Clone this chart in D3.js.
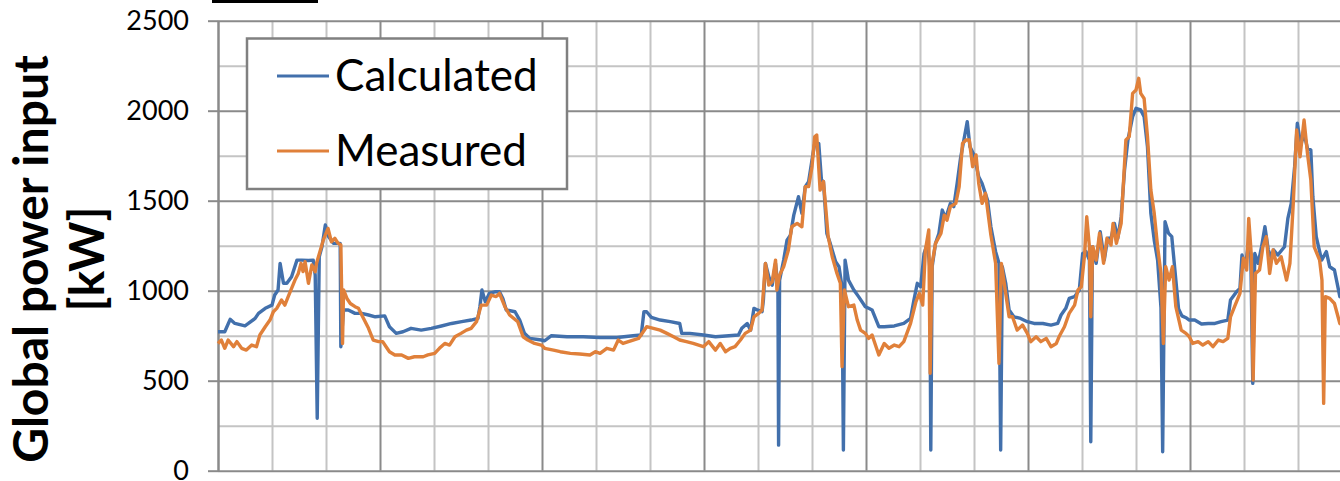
<!DOCTYPE html>
<html>
<head>
<meta charset="utf-8">
<script src="https://cdn.jsdelivr.net/npm/d3@7"></script>
<style>
  html, body { margin: 0; padding: 0; background: #fff; }
  svg { display: block; }
  text { font-family: Lato, "Open Sans", sans-serif; fill: #000; }
</style>
</head>
<body>
<svg id="chart" width="1340" height="481"></svg>
<script>
// Time axis in hours over one week; both series sampled irregularly.
const calcHours = [0,1,1.8,2.5,4,4.5,5.5,6,7,8,8.4,8.9,9.2,9.7,10.2,10.9,11.7,12.4,13.4,14.1,14.4,14.7,15,15.4,15.9,16.4,17.1,18.1,18.2,18.6,19.3,20.3,21.3,22.3,23.3,
  24.7,25.4,26.4,27.4,28.6,30.1,31.6,33.1,34.6,36.1,37.5,38.5,38.8,39.1,39.6,40.2,41,41.7,42.2,42.7,44,44.7,45.4,46.2,47.9,
  48.4,49.4,51.7,54.1,56.6,59.1,61.5,62.7,63.1,63.5,64.2,65.5,67,68.4,68.7,69.9,71.9,
  73.7,75.7,77.1,77.6,78.4,78.9,79.4,79.9,80.6,80.8,81.1,81.6,82.1,82.6,82.95,83.05,83.2,83.8,84.3,84.8,85.3,86,86.5,87,87.5,88,88.4,89,89.4,89.7,90.2,90.7,91.5,92,92.45,92.65,92.9,93.4,94.2,94.9,95.9,
  96.4,96.9,97.9,98.7,100.2,101.6,102.6,103.1,103.6,104.1,104.6,105.1,105.45,105.6,105.8,106.3,106.8,107.3,107.8,108.5,109,109.5,110,110.5,111,111.4,112,112.7,113.2,114,114.5,115.2,115.7,115.95,116.2,116.7,117.2,117.9,118.9,119.9,
  120.9,122.2,123.4,124.4,124.9,125.6,126.1,126.9,127.6,128.1,128.6,129.1,129.3,129.55,130.1,130.7,131.3,131.8,132.3,132.8,133.3,133.8,134.3,134.8,135.5,136,136.7,137.2,137.7,138.2,138.7,139.2,139.7,139.95,140.3,140.8,141.3,141.8,142.3,142.8,143.4,143.9,
  144.7,145.7,146.7,147.7,148.6,149.6,150,150.9,151.4,151.7,152.2,152.6,153,153.3,153.6,154.1,154.6,155.1,155.6,156.1,156.4,157,158,158.5,159,159.5,159.9,160.4,160.9,161.4,161.9,162.2,162.7,163.5,164.2,164.7,165.4,166.2,167,168];
const calcValues = [772,772,841,818,805,818,846,874,902,920,976,1004,1152,1041,1041,1078,1170,1170,1168,1170,1087,291,1189,1244,1365,1300,1263,1263,689,893,893,874,874,865,855,
  860,800,763,772,791,781,791,804,818,828,837,846,911,1004,939,985,994,994,957,893,883,837,763,735,726,
  722,750,744,744,740,740,750,754,883,883,852,837,828,818,763,763,754,
  744,750,754,791,818,781,902,893,883,948,1152,1078,1031,1152,1022,142,1059,1170,1281,1309,1420,1522,1430,1578,1606,1726,1818,1818,1615,1606,1318,1263,1161,1133,1022,115,1170,1059,1004,967,911,
  902,893,800,800,804,818,846,948,1041,1022,1207,1263,1133,115,1133,1263,1318,1448,1402,1485,1467,1596,1735,1837,1939,1800,1754,1633,1596,1504,1355,1217,1152,115,1133,1041,893,855,846,828,
  818,818,809,818,865,902,957,967,1004,1207,1217,1170,161,1244,1152,1328,1170,1291,1291,1374,1291,1411,1670,1837,1967,2013,2004,1967,1800,1430,1281,1170,904,105,1383,1320,1300,1100,900,860,850,837,
  837,815,818,818,828,837,948,994,1013,1198,1133,1244,1207,485,1207,1152,1244,1355,1226,1180,1226,1198,1244,1402,1485,1689,1930,1809,1874,1791,1781,1522,1300,1170,1217,1133,1115,967,955,945];

const measHours = [0,0.5,1,1.5,2.3,2.8,3.5,4.2,5,5.7,6.2,7,7.7,8.2,8.7,9.4,9.9,10.4,10.9,11.4,11.9,12.3,12.6,12.9,13.4,13.9,14.4,14.6,15.1,15.6,16.3,16.8,17.3,17.8,18.2,18.45,18.6,19.1,19.6,20.3,20.8,21.3,22.3,23,23.8,
  24.4,24.9,25.4,26.2,27.2,28.2,29.1,30.4,31.1,32.1,32.8,33.6,34.3,35.1,36,36.8,37.5,38.3,39,39.8,40.5,41.2,41.7,42.5,43.2,44.4,45.2,45.9,46.9,47.9,
  48.4,49.7,50.7,52.2,53.6,55.1,55.9,56.6,57.6,58.6,59.3,60,60.8,61.5,62.3,63,63.5,64.5,65.5,66.5,67.5,68.4,69.4,70.4,71.9,
  72.7,73.7,74.4,75.2,75.9,76.6,77.4,78.1,78.9,79.4,80.1,80.6,81.1,81.6,82.1,82.6,82.8,83.2,83.8,84.5,85,85.8,86.5,87,87.5,88,88.4,88.7,89.2,89.7,90.4,91,91.7,92.2,92.45,92.8,93.4,94.2,94.7,95.2,95.9,
  96.4,96.9,97.9,98.7,99.4,100.2,100.9,101.6,102.6,103.4,103.9,104.4,104.8,105.3,105.5,105.8,106.3,107.1,107.6,108,108.5,109.3,109.8,110.3,110.8,111.3,111.8,112.3,112.7,113.2,113.7,114.5,115.2,115.7,116.05,116.7,117.2,117.7,118.4,119.2,119.9,
  120.4,121.2,121.9,122.7,123.4,124.2,124.6,125.4,126.1,126.9,127.4,127.9,128.4,128.7,129.1,129.3,129.6,130.1,130.6,131.2,131.7,132.3,132.6,133.1,133.8,134.5,135,135.5,136,136.4,136.7,137.2,137.7,138.2,138.7,139.2,139.7,140.05,140.4,140.9,141.4,141.9,142.7,143.4,143.9,
  144.4,145.2,145.9,146.7,147.4,148.2,148.9,149.6,150,150.6,151.4,151.9,152.4,152.7,153.1,153.35,153.7,154.3,154.8,155.3,155.8,156.3,156.8,157.5,158.3,158.8,159.3,159.8,160.3,160.9,161.4,161.9,162.4,163.2,163.55,163.8,164.05,164.7,165.4,166.2,167,168];
const measValues = [707,726,680,726,689,717,680,670,698,689,754,800,837,883,902,948,920,967,1013,1059,1096,1152,1106,1161,1041,1143,1106,1152,1217,1281,1346,1272,1291,1263,1254,707,1004,957,929,911,902,865,791,726,717,
  717,689,661,643,643,624,633,633,643,652,680,707,698,744,763,781,791,828,920,920,976,967,985,911,865,828,744,726,707,698,
  680,670,661,652,648,643,661,652,680,670,726,707,717,726,735,772,800,791,781,763,744,726,717,707,689,
  717,670,707,661,680,689,726,763,781,855,874,893,1152,1031,1050,1170,1004,1087,1133,1226,1355,1374,1355,1578,1578,1689,1855,1865,1559,1606,1300,1189,1096,1041,578,1004,911,920,837,781,763,
  735,754,643,707,680,698,689,717,818,939,985,920,1226,1337,541,1152,1263,1318,1420,1392,1467,1485,1578,1818,1837,1837,1689,1754,1596,1485,1541,1309,1152,596,1152,985,855,855,781,809,763,
  717,744,717,735,689,707,744,800,874,920,1004,1022,1207,1411,1244,855,1244,1170,1319,1152,1291,1254,1374,1263,1374,1837,1856,2096,2115,2180,2096,2068,1856,1559,1430,1244,1096,707,1133,1059,1133,911,781,763,744,
  707,717,698,717,689,726,717,735,855,911,985,1180,1115,1402,1189,504,1096,1115,1244,1300,1096,1226,1152,1189,1059,1152,1485,1893,1744,1948,1763,1615,1244,1170,1059,374,967,957,929,818,800,790];

const seriesNames = ["Calculated", "Measured"];
const seriesColors = ["#4270ac", "#e0803a"];
const yMajorTicks = [0, 500, 1000, 1500, 2000, 2500];
const yMinorTicks = [250, 750, 1250, 1750, 2250];
const xMajorTicks = [0, 24, 48, 72, 96, 120, 144, 168];
const xMinorTicks = [8, 16, 32, 40, 56, 64, 80, 88, 104, 112, 128, 136, 152, 160];
const yTitleLines = ["Global power input", "[kW]"];

const svg = d3.select("#chart");
const margin = { left: 218, top: 20.7, bottom: 470.7 };
const x = d3.scaleLinear().domain([0, 168]).range([margin.left, margin.left + 168 * 6.75]);
const y = d3.scaleLinear().domain([0, 2500]).range([margin.bottom, margin.top]);
const plotW = x.range()[1] - x.range()[0];
const plotH = margin.bottom - margin.top;

// small dark bar at the upper left
svg.append("rect").attr("x", 212).attr("y", 0).attr("width", 106).attr("height", 3).attr("fill", "#000");

// gridlines: minor first (light), then major (darker)
function grid(axis, transform, color) {
  const g = svg.append("g").attr("transform", transform).call(axis);
  g.select(".domain").remove();
  g.selectAll(".tick line").attr("stroke", color).attr("stroke-width", 2);
  g.selectAll(".tick text").remove();
  return g;
}
grid(d3.axisLeft(y).tickValues(yMinorTicks).tickSize(-plotW), `translate(${margin.left},0)`, "#c4c4c4");
grid(d3.axisBottom(x).tickValues(xMinorTicks).tickSize(-plotH), `translate(0,${margin.bottom})`, "#c4c4c4");
grid(d3.axisLeft(y).tickValues(yMajorTicks).tickSize(-plotW), `translate(${margin.left},0)`, "#8a8a8a");
grid(d3.axisBottom(x).tickValues(xMajorTicks).tickSize(-plotH), `translate(0,${margin.bottom})`, "#8a8a8a");

// y axis with outward ticks and labels
const yAxis = svg.append("g").attr("transform", `translate(${margin.left},0)`)
  .call(d3.axisLeft(y).tickValues(yMajorTicks).tickSizeInner(10).tickSizeOuter(0).tickPadding(19).tickFormat(d3.format("d")));
yAxis.select(".domain").attr("stroke", "#8a8a8a").attr("stroke-width", 2);
yAxis.selectAll(".tick line").attr("stroke", "#8a8a8a").attr("stroke-width", 2);
yAxis.selectAll(".tick text").attr("font-family", "Lato, sans-serif").attr("font-size", 27).attr("fill", "#000");

// series lines
const series = [
  { name: seriesNames[0], color: seriesColors[0], pts: d3.zip(calcHours, calcValues) },
  { name: seriesNames[1], color: seriesColors[1], pts: d3.zip(measHours, measValues) }
];
const line = d3.line().x(d => x(d[0])).y(d => y(d[1]));
svg.append("g").selectAll("path").data(series).join("path")
  .attr("d", d => line(d.pts))
  .attr("fill", "none")
  .attr("stroke", d => d.color)
  .attr("stroke-width", 3.4)
  .attr("stroke-linejoin", "round");

// legend
const lg = svg.append("g");
lg.append("rect").attr("x", 247).attr("y", 38.5).attr("width", 320).attr("height", 150.5)
  .attr("fill", "#fff").attr("stroke", "#808080").attr("stroke-width", 2.5);
series.forEach((s, i) => {
  const cy = 76 + i * 75;
  lg.append("line").attr("x1", 277).attr("x2", 329).attr("y1", cy).attr("y2", cy)
    .attr("stroke", s.color).attr("stroke-width", 3);
  lg.append("text").attr("x", 335).attr("y", cy + 15).attr("font-size", 44).text(s.name);
});

// y axis title
const title = svg.append("text")
  .attr("transform", "translate(0,259) rotate(-90)")
  .attr("text-anchor", "middle")
  .attr("font-weight", "bold")
  .attr("font-size", 48);
yTitleLines.forEach((t, i) => {
  title.append("tspan").attr("x", 0).attr("y", 48 + i * 56).text(t);
});
</script>
</body>
</html>
